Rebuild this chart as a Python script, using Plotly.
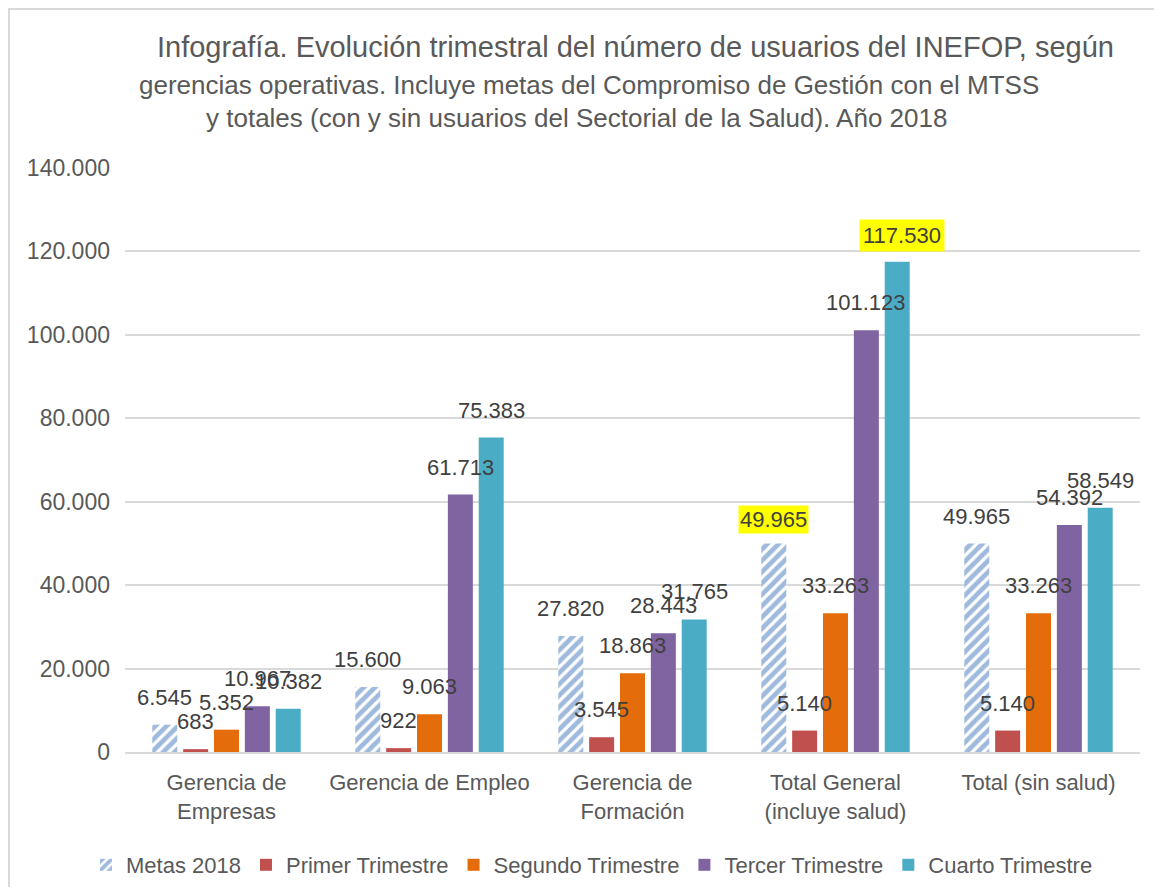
import plotly.graph_objects as go

# ---------------- data ----------------
categories = ["Gerencia de<br>Empresas", "Gerencia de Empleo", "Gerencia de<br>Formación",
              "Total General<br>(incluye salud)", "Total (sin salud)"]
series_names = ["Metas 2018", "Primer Trimestre", "Segundo Trimestre", "Tercer Trimestre", "Cuarto Trimestre"]
metas = [6545, 15600, 27820, 49965, 49965]
primer = [683, 922, 3545, 5140, 5140]
segundo = [5352, 9063, 18863, 33263, 33263]
tercer = [10967, 61713, 28443, 101123, 54392]
cuarto = [10382, 75383, 31765, 117530, 58549]
highlighted = [(0, 3), (4, 3)]  # (series index, category index) with yellow label
title_lines = [
    "Infografía. Evolución trimestral del número de usuarios del INEFOP, según",
    "gerencias operativas. Incluye metas del Compromiso de Gestión con el MTSS",
    "y totales (con y sin usuarios del Sectorial de la Salud). Año 2018",
]
y_ticks = [0, 20000, 40000, 60000, 80000, 100000, 120000, 140000]

# ---------------- style ----------------
OFF = 8  # page body margin
W, H = 1162 - 2 * OFF, 895 - 2 * OFF
# plot area in page pixels: x 125..1140, y 168..752
L, T = 125 - OFF, 168 - OFF
R, B = W - (1140 - OFF), H - (752 - OFF)
PW, PH = W - L - R, H - T - B
BARGAP, GROUPGAP = 0.24, 0.19
colors = ["#4F81BD", "#C0504D", "#E46C0A", "#8064A2", "#4BACC6"]
FONT = "Liberation Sans, Arial, sans-serif"
TXT = "#595959"


def fmt(v):
    return f"{v:,}".replace(",", ".")


def px_x(p):  # page pixel -> paper
    return (p - OFF - L) / PW


def px_y(p):
    return (H - B - (p - OFF)) / PH


values = [metas, primer, segundo, tercer, cuarto]
fig = go.Figure()
for i, (name, vals) in enumerate(zip(series_names, values)):
    marker = dict(color=colors[i], line=dict(width=0))
    if i == 0:
        marker = dict(color="white", line=dict(width=0),
                      pattern=dict(shape="/", fgcolor="#3F75BA", bgcolor="white",
                                   size=8, solidity=0.6))
    fig.add_trace(go.Bar(name=name, x=categories, y=vals, marker=marker,
                         hoverinfo="x+y"))

# data labels
cat_w = PW / len(categories)
slot = cat_w * (1 - BARGAP) / len(series_names)
annotations = []
for i, vals in enumerate(values):
    for j, v in enumerate(vals):
        hl = (i, j) in highlighted
        annotations.append(dict(
            x=categories[j], y=v, xref="x", yref="y",
            text=fmt(v), showarrow=False, yanchor="bottom",
            xshift=(i - 2) * slot + (5 if (hl and i == 4) else 0),
            yshift=10 if hl else 13,
            bgcolor="#FFFF00" if hl else "rgba(0,0,0,0)",
            borderpad=1 if not (hl and i == 4) else 3,
            font=dict(family=FONT, size=22, color="#404040"),
        ))

# title lines
title_pos = [(635, 47, 29), (589, 85, 26), (576, 118, 26)]
for line, (cx, cy, fs) in zip(title_lines, title_pos):
    annotations.append(dict(
        x=px_x(cx), y=px_y(cy), xref="paper", yref="paper", text=line,
        showarrow=False, xanchor="center", yanchor="middle",
        font=dict(family=FONT, size=fs, color=TXT),
    ))

fig.update_layout(
    width=W, height=H,
    margin=dict(l=L, r=R, t=T, b=B, autoexpand=False),
    paper_bgcolor="white", plot_bgcolor="white",
    barmode="group", bargap=BARGAP, bargroupgap=GROUPGAP,
    font=dict(family=FONT, color=TXT),
    separators=",.",
    annotations=annotations,
    showlegend=True,
    legend=dict(orientation="h", x=px_x(592), xanchor="center", y=px_y(865), yanchor="middle",
                font=dict(family=FONT, size=22, color=TXT), itemwidth=30,
                traceorder="normal"),
    shapes=[dict(type="rect", xref="paper", yref="paper",
                 x0=px_x(OFF + 1), x1=px_x(W + 40), y0=px_y(OFF + 1), y1=px_y(H + 40),
                 line=dict(color="#D9D9D9", width=2), fillcolor="rgba(0,0,0,0)", layer="below")],
)
fig.update_yaxes(range=[0, 140000], tickvals=y_ticks, tickformat=",d",
                 showgrid=True, gridcolor="#D9D9D9", gridwidth=1.5,
                 zeroline=False, showline=False, ticks="", automargin=False,
                 ticklabelstandoff=14,
                 tickfont=dict(family=FONT, size=23, color=TXT))
fig.update_xaxes(showgrid=False, showline=True, linecolor="#D9D9D9", linewidth=2,
                 ticks="", ticklabelstandoff=10, automargin=False,
                 tickfont=dict(family=FONT, size=22, color=TXT))

fig.write_html("out.html")
